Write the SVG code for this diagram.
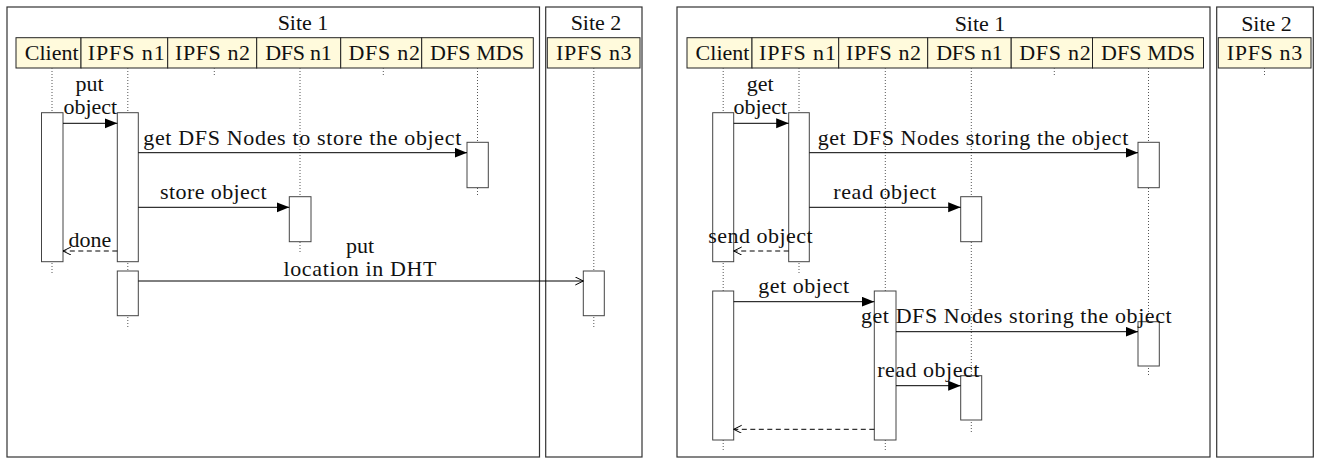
<svg xmlns="http://www.w3.org/2000/svg" width="1322" height="460" viewBox="0 0 1322 460">
<style>
text{font-family:"Liberation Serif","Times New Roman","DejaVu Serif",serif;font-size:22px;fill:#111;text-anchor:middle}
.site{fill:#fff;stroke:#333;stroke-width:1.2}
.hdr{fill:#fffadc;stroke:#222;stroke-width:1}
.life{stroke:#555;stroke-width:1;stroke-dasharray:1 2;fill:none}
.act{fill:#fff;stroke:#444;stroke-width:1}
.msg{stroke:#000;stroke-width:1;fill:none;marker-end:url(#fa)}
.ret{stroke:#000;stroke-width:1;fill:none;stroke-dasharray:5 3.5;marker-end:url(#oa)}
.asy{stroke:#000;stroke-width:1;fill:none;marker-end:url(#oa)}
</style>
<defs>
<marker id="fa" markerUnits="userSpaceOnUse" markerWidth="14" markerHeight="12" refX="12.5" refY="5" orient="auto"><path d="M0,0 L12.5,5 L0,10 z" fill="#000"/></marker>
<marker id="oa" markerUnits="userSpaceOnUse" markerWidth="10" markerHeight="10" refX="8" refY="4" orient="auto"><path d="M0,0 L8,4 L0,8" fill="none" stroke="#000" stroke-width="1"/></marker>
</defs>
<rect width="1322" height="460" fill="#fff"/>

<!-- LEFT DIAGRAM -->
<g id="L-site1"><rect class="site" x="7" y="7" width="532.5" height="450"/><text x="303" y="30">Site 1</text></g>
<g id="L-site2"><rect class="site" x="545.7" y="7" width="96.3" height="450"/><text x="596" y="30">Site 2</text></g>

<g id="L-client"><rect class="hdr" x="16" y="37.7" width="65" height="30.3"/><text x="51.7" y="60">Client</text>
<line class="life" x1="52" y1="68" x2="52" y2="273.3"/><rect class="act" x="41.5" y="112.7" width="21.5" height="149"/></g>
<g id="L-ipfs1"><rect class="hdr" x="81" y="37.7" width="86.7" height="30.3"/><text x="126.2" y="60" textLength="77" lengthAdjust="spacing">IPFS n1</text>
<line class="life" x1="127.8" y1="68" x2="127.8" y2="329"/><rect class="act" x="117.3" y="112.7" width="21" height="149"/><rect class="act" x="117.3" y="271" width="21" height="44.7"/></g>
<g id="L-ipfs2"><rect class="hdr" x="167.7" y="37.7" width="89" height="30.3"/><text x="212.5" y="60" textLength="75" lengthAdjust="spacing">IPFS n2</text>
<line class="life" x1="214.3" y1="68" x2="214.3" y2="76"/></g>
<g id="L-dfs1"><rect class="hdr" x="256.7" y="37.7" width="84" height="30.3"/><text x="298.5" y="60" textLength="66.5" lengthAdjust="spacing">DFS n1</text>
<line class="life" x1="300" y1="68" x2="300" y2="253"/><rect class="act" x="289.3" y="196.7" width="21.7" height="45"/></g>
<g id="L-dfs2"><rect class="hdr" x="340.7" y="37.7" width="81" height="30.3"/><text x="384.2" y="60" textLength="71.5" lengthAdjust="spacing">DFS n2</text>
<line class="life" x1="383.3" y1="68" x2="383.3" y2="76"/></g>
<g id="L-mds"><rect class="hdr" x="421.7" y="37.7" width="111.6" height="30.3"/><text x="477" y="60" textLength="94" lengthAdjust="spacing">DFS MDS</text>
<line class="life" x1="477.5" y1="68" x2="477.5" y2="197"/><rect class="act" x="467" y="142.3" width="21.3" height="45.4"/></g>
<g id="L-ipfs3"><rect class="hdr" x="547.3" y="37.7" width="92.7" height="30.3"/><text x="593.8" y="60" textLength="75.5" lengthAdjust="spacing">IPFS n3</text>
<line class="life" x1="593.8" y1="68" x2="593.8" y2="329"/><rect class="act" x="583.3" y="271" width="21" height="44.7"/></g>

<!-- RIGHT DIAGRAM -->
<g id="R-site1"><rect class="site" x="677" y="7" width="533" height="450"/><text x="980" y="30.5">Site 1</text></g>
<g id="R-site2"><rect class="site" x="1216.7" y="7" width="96.6" height="450"/><text x="1266.5" y="30.5">Site 2</text></g>

<g id="R-client"><rect class="hdr" x="687" y="37.7" width="65" height="30.3"/><text x="722.5" y="60">Client</text>
<line class="life" x1="723.2" y1="68" x2="723.2" y2="452"/><rect class="act" x="712.7" y="112.7" width="21" height="149"/><rect class="act" x="712.7" y="291" width="21" height="149"/></g>
<g id="R-ipfs1"><rect class="hdr" x="752" y="37.7" width="86.7" height="30.3"/><text x="797.5" y="60" textLength="77" lengthAdjust="spacing">IPFS n1</text>
<line class="life" x1="799" y1="68" x2="799" y2="273.3"/><rect class="act" x="788.7" y="112.7" width="20.6" height="149"/></g>
<g id="R-ipfs2"><rect class="hdr" x="838.7" y="37.7" width="89" height="30.3"/><text x="883.5" y="60" textLength="75" lengthAdjust="spacing">IPFS n2</text>
<line class="life" x1="885.3" y1="68" x2="885.3" y2="452"/><rect class="act" x="874.3" y="291" width="21.7" height="149"/></g>
<g id="R-dfs1"><rect class="hdr" x="927.7" y="37.7" width="83.5" height="30.3"/><text x="969.5" y="60" textLength="66.5" lengthAdjust="spacing">DFS n1</text>
<line class="life" x1="971.3" y1="68" x2="971.3" y2="432"/><rect class="act" x="960.7" y="196.7" width="21" height="45"/><rect class="act" x="960.7" y="375.7" width="21" height="44.3"/></g>
<g id="R-dfs2"><rect class="hdr" x="1011.2" y="37.7" width="81.3" height="30.3"/><text x="1055" y="60" textLength="71.5" lengthAdjust="spacing">DFS n2</text>
<line class="life" x1="1054.3" y1="68" x2="1054.3" y2="76"/></g>
<g id="R-mds"><rect class="hdr" x="1092.5" y="37.7" width="111" height="30.3"/><text x="1148" y="60" textLength="94" lengthAdjust="spacing">DFS MDS</text>
<line class="life" x1="1148.5" y1="68" x2="1148.5" y2="375"/><rect class="act" x="1138" y="142.3" width="21.3" height="45.4"/><rect class="act" x="1138" y="321.7" width="21.3" height="44.3"/></g>
<g id="R-ipfs3"><rect class="hdr" x="1218.3" y="37.7" width="92.7" height="30.3"/><text x="1264.5" y="60" textLength="75.5" lengthAdjust="spacing">IPFS n3</text>
<line class="life" x1="1264.5" y1="68" x2="1264.5" y2="76"/></g>

<g id="connectors">
<line class="msg" x1="63" y1="123.3" x2="117.3" y2="123.3"/>
<line class="msg" x1="138.3" y1="152.7" x2="467" y2="152.7"/>
<line class="msg" x1="138.3" y1="207.3" x2="289.3" y2="207.3"/>
<line class="ret" x1="117.3" y1="251" x2="63" y2="251"/>
<line class="asy" x1="138.3" y1="281" x2="583.3" y2="281"/>

<line class="msg" x1="733.7" y1="123.3" x2="788.7" y2="123.3"/>
<line class="msg" x1="809.3" y1="152.7" x2="1138" y2="152.7"/>
<line class="msg" x1="809.3" y1="207.3" x2="960.7" y2="207.3"/>
<line class="ret" x1="788.7" y1="251" x2="733.7" y2="251"/>
<line class="msg" x1="733.7" y1="301.7" x2="874.3" y2="301.7"/>
<line class="msg" x1="896" y1="331.7" x2="1138" y2="331.7"/>
<line class="msg" x1="896" y1="385.7" x2="960.7" y2="385.7"/>
<line class="ret" x1="874.3" y1="429.3" x2="733.7" y2="429.3"/>
</g>

<g id="labels">
<text x="89.5" y="91">put</text>
<text x="90.3" y="113.5">object</text>
<text x="302.3" y="145" textLength="318" lengthAdjust="spacing">get DFS Nodes to store the object</text>
<text x="213.3" y="198.5" textLength="106.5" lengthAdjust="spacing">store object</text>
<text x="90" y="246.7">done</text>
<text x="360" y="253.3">put</text>
<text x="360" y="276" textLength="153" lengthAdjust="spacing">location in DHT</text>

<text x="760.3" y="90.5">get</text>
<text x="760.3" y="113.5">object</text>
<text x="973" y="145" textLength="310.6" lengthAdjust="spacing">get DFS Nodes storing the object</text>
<text x="884.7" y="198.5" textLength="102.7" lengthAdjust="spacing">read object</text>
<text x="760.5" y="243.3" textLength="104.4" lengthAdjust="spacing">send object</text>
<text x="803.7" y="292.7" textLength="90.7" lengthAdjust="spacing">get object</text>
<text x="1016.3" y="322.7" textLength="310.7" lengthAdjust="spacing">get DFS Nodes storing the object</text>
<text x="928.3" y="376.7" textLength="102" lengthAdjust="spacing">read object</text>
</g>
</svg>
